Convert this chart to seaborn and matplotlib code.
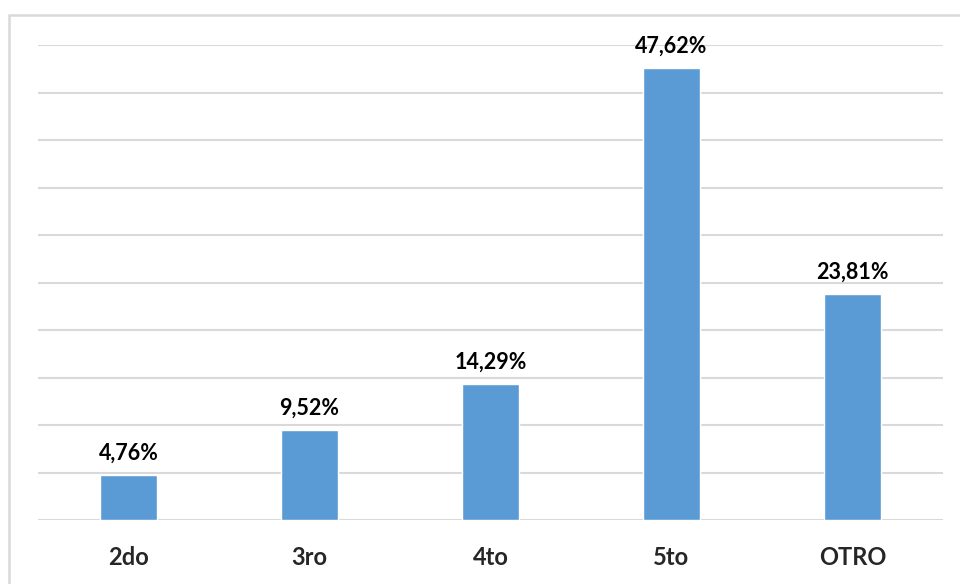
import pandas as pd
import seaborn as sns
import matplotlib.pyplot as plt
from matplotlib.patches import Rectangle

# Data
categories = ["2do", "3ro", "4to", "5to", "OTRO"]
values = [4.76, 9.52, 14.29, 47.62, 23.81]
labels = ["4,76%", "9,52%", "14,29%", "47,62%", "23,81%"]

df = pd.DataFrame({"grado": categories, "pct": values})

sns.set_style("white")
plt.rcParams["font.family"] = ["Lato", "DejaVu Sans"]

fig = plt.figure(figsize=(9.6, 5.84), dpi=100)
ax = fig.add_axes([38 / 960, 1 - 520 / 584, (943 - 38) / 960, (520 - 45) / 584])

sns.barplot(data=df, x="grado", y="pct", color="#5B9BD5", width=0.32,
            saturation=1, ax=ax, zorder=3)

ax.set_ylim(0, 50)
ax.set_xlim(-0.5, 4.5)
ax.set_yticks(range(0, 51, 5))
ax.yaxis.grid(True, color="#d9d9d9", linewidth=1.5, zorder=0)
ax.set_yticklabels([])
ax.tick_params(axis="y", length=0)
ax.tick_params(axis="x", length=0, pad=19, labelsize=17)
for t in ax.get_xticklabels():
    t.set_fontweight("bold")
ax.set_xlabel("")
ax.set_ylabel("")
for s in ax.spines.values():
    s.set_visible(False)

# Value labels
for i, (v, lab) in enumerate(zip(values, labels)):
    ax.annotate(lab, (i, v), xytext=(0, 8), textcoords="offset points",
                ha="center", va="bottom", fontsize=15.5, fontweight="bold",
                color="#000000")

# Outer frame
fig.patches.append(Rectangle((9 / 960, -0.05), 1.2, 1 - 15 / 584 + 0.05,
                             transform=fig.transFigure, fill=False,
                             edgecolor="#d9d9d9", linewidth=1.8))

fig.savefig("out.png", dpi=100)
